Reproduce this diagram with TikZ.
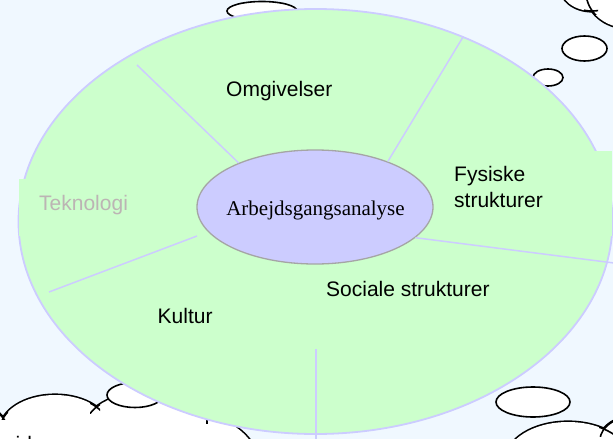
\documentclass[tikz,border=0pt]{standalone}
\usepackage{fontspec}
\setmainfont{Liberation Serif}
\setsansfont{Liberation Sans}
\usetikzlibrary{shapes.geometric}
\definecolor{bg}{RGB}{240,248,255}
\definecolor{leaf}{RGB}{204,255,204}
\definecolor{lav}{RGB}{204,204,255}
\definecolor{rim}{RGB}{165,165,165}
\definecolor{faint}{RGB}{188,180,180}
\begin{document}
\begin{tikzpicture}[x=1pt,y=-1pt,
  divider/.style={draw=lav, line width=1.5pt},
  label/.style={font=\sffamily\fontsize{21}{25}\selectfont, inner sep=0pt, anchor=base west},
  puff/.style={draw=black, line width=1.6pt, fill=white},
  puffback/.style={draw=black, line width=3.2pt},
  hook/.style={draw=black, line width=1.6pt},
]
\useasboundingbox (0,0) rectangle (613,439);
\clip (0,0) rectangle (613,439);
\fill[bg] (0,0) rectangle (613,439);

% ---- clouds (behind the big ellipse)
% top-right cloud
\draw[puffback] (592,-14) ellipse [x radius=32, y radius=25]
                (628,-8) ellipse [x radius=42, y radius=36];
\fill[white] (592,-14) ellipse [x radius=32, y radius=25]
             (628,-8) ellipse [x radius=42, y radius=36];
\begin{scope}
  \clip (584,0) rectangle (598,14);
  \path[hook] (592,-14) ellipse [x radius=32, y radius=25]
              (628,-8) ellipse [x radius=42, y radius=36];
\end{scope}
\path[puff] (584.5,48.5) ellipse [x radius=22.5, y radius=12.5];
\path[puff] (548,77.5) ellipse [x radius=15, y radius=8.5];
% top small puff
\path[puff] (262,11) ellipse [x radius=35, y radius=9.5];
% bottom-left cloud
\draw[puffback] (-15,440) ellipse [x radius=25, y radius=32]
                (55,430) ellipse [x radius=55, y radius=35]
                (160,425) ellipse [x radius=74, y radius=35]
                (195,470) ellipse [x radius=65, y radius=55];
\fill[white] (-15,440) ellipse [x radius=25, y radius=32]
             (55,430) ellipse [x radius=55, y radius=35]
             (160,425) ellipse [x radius=74, y radius=35]
             (195,470) ellipse [x radius=65, y radius=55];
\begin{scope}
  \clip (0,404) rectangle (8,419);
  \path[hook] (-15,440) ellipse [x radius=25, y radius=32]
              (55,430) ellipse [x radius=55, y radius=35];
\end{scope}
\begin{scope}
  \clip (90,403) rectangle (100,413);
  \path[hook] (55,430) ellipse [x radius=55, y radius=35]
              (160,425) ellipse [x radius=74, y radius=35];
\end{scope}
\draw[black, line width=1.4pt] (207,418) -- (207,424);
\path[puff] (135,395) ellipse [x radius=28, y radius=12.5];
\node[label, font=\sffamily\fontsize{21}{25}\selectfont] (frag) at (15.5,451) {id};
% bottom-right cloud
\path[puff] (533,402) ellipse [x radius=37, y radius=15];
\draw[puffback] (568,460) ellipse [x radius=62, y radius=38]
                (640,440) ellipse [x radius=40, y radius=25];
\fill[white] (568,460) ellipse [x radius=62, y radius=38]
             (640,440) ellipse [x radius=40, y radius=25];
\begin{scope}
  \clip (599,418) rectangle (613,436);
  \path[hook] (568,460) ellipse [x radius=62, y radius=38]
              (640,440) ellipse [x radius=40, y radius=25];
\end{scope}

% ---- big ellipse
\path[fill=leaf, draw=lav, line width=1.8pt] (315.5,221.5) ellipse [x radius=297, y radius=212.5];
\fill[leaf] (19,179) rectangle (130,236);
\fill[leaf] (430,151) rectangle (612,236);

% ---- centre
\node[ellipse, draw=rim, fill=lav, line width=1.3pt, minimum width=236pt,
      minimum height=114pt, inner sep=0pt] (core) at (315,207) {};

% ---- dividers
\coordinate (e1) at (137,65);
\coordinate (e2) at (463,37);
\coordinate (e3) at (614,263);
\coordinate (s4) at (197,236);
\coordinate (e4) at (49,292);
\coordinate (s5) at (316,349);
\coordinate (e5) at (316,440);
\draw[divider] (core.150) -- (e1);
\draw[divider] (core.32) -- (e2);
\draw[divider] (core.343) -- (e3);
\draw[divider] (s4) -- (e4);
\draw[divider] (s5) -- (e5);

% ---- texts
\node[label, anchor=base, font=\rmfamily\fontsize{21}{25}\selectfont] (coretext) at (315.5,215) {Arbejdsgangsanalyse};
\node[label] (omg) at (226,96) {Omgivelser};
\node[label, text=faint] (tek) at (39,210) {Teknologi};
\node[label] (fys1) at (454,181) {Fysiske};
\node[label] (fys2) at (454,207) {strukturer};
\node[label] (soc) at (326,296) {Sociale strukturer};
\node[label] (kul) at (157.5,323) {Kultur};
\end{tikzpicture}
\end{document}
